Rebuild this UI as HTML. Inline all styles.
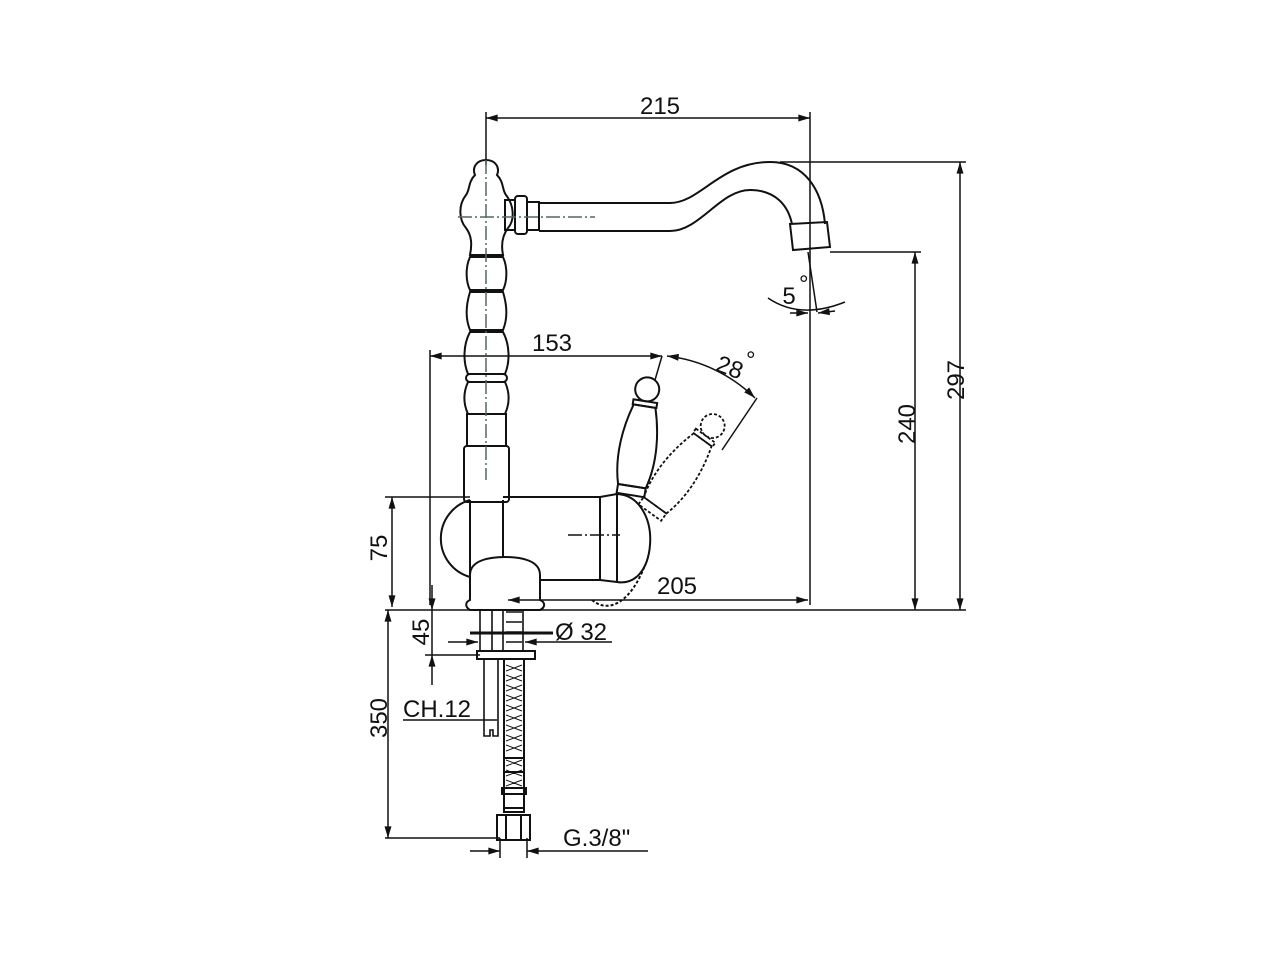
<!DOCTYPE html>
<html><head><meta charset="utf-8"><style>
html,body{margin:0;padding:0;background:#fff;}
svg{display:block}
text{font-family:"Liberation Sans",Arial,sans-serif;fill:#111;font-size:24px}
</style></head><body>
<svg width="1280" height="960" viewBox="0 0 1280 960" xmlns="http://www.w3.org/2000/svg">
<defs>
<marker id="a" viewBox="0 0 10 6" refX="10" refY="3" markerWidth="15" markerHeight="7" markerUnits="userSpaceOnUse" orient="auto-start-reverse"><path d="M0,0L10,3L0,6Z" fill="#111"/></marker>
</defs>
<g stroke="#111" stroke-width="1.5" fill="none">
<line x1="486" y1="112" x2="486" y2="165"/>
<line x1="810" y1="112" x2="810" y2="605"/>
<line x1="780" y1="162" x2="966" y2="162"/>
<line x1="830" y1="252" x2="921" y2="252"/>
<line x1="385" y1="610" x2="966" y2="610"/>
<line x1="385" y1="497" x2="470" y2="497"/>
<line x1="430" y1="350" x2="430" y2="605"/>
<line x1="385" y1="838" x2="500" y2="838"/>
<line x1="425" y1="655" x2="480" y2="655"/>
<line x1="486" y1="118" x2="810" y2="118" marker-start="url(#a)" marker-end="url(#a)"/>
<line x1="960" y1="162" x2="960" y2="610" marker-start="url(#a)" marker-end="url(#a)"/>
<line x1="915" y1="252" x2="915" y2="610" marker-start="url(#a)" marker-end="url(#a)"/>
<line x1="392" y1="497" x2="392" y2="607" marker-start="url(#a)" marker-end="url(#a)"/>
<line x1="430" y1="356" x2="662" y2="356" marker-start="url(#a)" marker-end="url(#a)"/>
<line x1="508" y1="600" x2="808" y2="600" marker-start="url(#a)" marker-end="url(#a)"/>
<line x1="388" y1="610" x2="388" y2="838" marker-start="url(#a)" marker-end="url(#a)"/>
<line x1="432" y1="585" x2="432" y2="610" marker-end="url(#a)"/>
<line x1="432" y1="685" x2="432" y2="655" marker-end="url(#a)"/>
<line x1="432" y1="610" x2="432" y2="655"/>
<line x1="448" y1="642" x2="478" y2="642" marker-end="url(#a)"/>
<line x1="612" y1="642" x2="525" y2="642" marker-end="url(#a)"/>
<line x1="470" y1="633" x2="553" y2="633" stroke-width="3"/>
<line x1="403" y1="720" x2="497" y2="720"/>
<line x1="470" y1="851" x2="500" y2="851" marker-end="url(#a)"/>
<line x1="648" y1="851" x2="527" y2="851" marker-end="url(#a)"/>
<line x1="500" y1="838" x2="500" y2="858"/><line x1="527" y1="838" x2="527" y2="858"/>
<line x1="662" y1="356" x2="655" y2="380"/>
<path d="M667,356 A150,150 0 0 1 755,398" marker-start="url(#a)" marker-end="url(#a)"/>
<line x1="757" y1="398" x2="722" y2="450"/>
<line x1="808" y1="252" x2="817" y2="312"/>
<path d="M768,298 Q800,320 845,302"/>
<line x1="790" y1="313" x2="808" y2="313" marker-end="url(#a)"/>
<line x1="835" y1="311" x2="818" y2="313" marker-end="url(#a)"/>
<g stroke-width="2">
<path d="M486,160 C476,160 472,168 475,175 C468,182 470,190 466,195 C458,205 459,220 466,228 C472,236 472,245 470,255 L503,255 C501,245 502,236 508,228 C515,220 514,205 506,195 C502,190 504,182 497,175 C500,168 496,160 486,160 Z"/>
<path d="M470,257 C465,268 466,282 470,290 L503,290 C507,282 508,268 503,257 Z"/>
<path d="M470,292 C466,305 465,318 470,330 L503,330 C508,318 507,305 503,292 Z"/>
<path d="M470,332 C463,345 463,362 468,374 L505,374 C510,362 510,345 503,332 Z"/>
<rect x="466" y="374" width="41" height="8" rx="4"/>
<path d="M468,382 C463,393 463,403 468,414 L505,414 C510,403 510,393 505,382 Z"/>
<rect x="467" y="414" width="39" height="32"/>
<rect x="464" y="446" width="45" height="56" rx="3"/>
<rect x="505" y="200" width="10" height="30"/>
<rect x="515" y="196" width="12" height="38" rx="3"/>
<rect x="527" y="202" width="12" height="28"/>
<path d="M539,203 L670,203 C700,203 720,162 770,162 C805,162 822,190 825,224 M539,231 L670,231 C700,231 720,190 750,190 C775,190 788,205 792,224"/>
<path d="M790,224 L827,222 L830,247 L793,250 Z"/>
<path d="M470,500 A40,40 0 0 0 470,577"/>
<path d="M470,500 L470,577 M503,497 L600,497 L600,580 L540,580 M503,500 L503,558"/>
<path d="M600,497 L617,494 C640,495 652,520 650,545 C648,570 635,585 617,582 L600,580 M617,494 L617,582"/>
<path d="M470,600 L470,575 C470,560 490,557 505,557 C520,557 540,560 540,575 L540,600 C545,602 546,607 540,610 L470,610 C465,607 465,602 470,600 Z"/>
</g>
<line x1="458" y1="217" x2="595" y2="217" stroke="#566" stroke-dasharray="14,3,2,3"/>
<line x1="486" y1="160" x2="486" y2="480" stroke="#566" stroke-dasharray="14,3,2,3"/>
<path stroke-dasharray="3,2" stroke-width="2" d="M592,600 C610,615 632,600 645,565"/>
<line x1="568" y1="535" x2="620" y2="535" stroke-dasharray="14,3,2,3"/>
<path stroke-width="1.6" d="M480,610 L480,650 M492,610 L492,650 M503,610 L503,650 M523,610 L523,650 M506,612 h16 M506,622 h16 M506,632 h16 M506,642 h16"/>
<rect stroke-width="2" x="477" y="651" width="58" height="8"/>
<path stroke-width="1.6" d="M484,659 L484,736 L490,736 L490,730 L493,730 L493,736 L498,736 L498,659"/>
<rect x="504" y="659" width="20" height="113" stroke-width="2"/>
<rect x="504" y="758" width="20" height="50" stroke-width="2"/>
<path stroke-width="1" d="M506,665 l16,6 M506,675 l16,6 M506,685 l16,6 M506,695 l16,6 M506,705 l16,6 M506,715 l16,6 M506,725 l16,6 M506,735 l16,6 M506,745 l16,6 M506,760 l16,6 M506,770 l16,6 M506,780 l16,6 M522,665 l-16,6 M522,675 l-16,6 M522,685 l-16,6 M522,695 l-16,6 M522,705 l-16,6 M522,715 l-16,6 M522,725 l-16,6 M522,735 l-16,6 M522,745 l-16,6 M522,760 l-16,6 M522,770 l-16,6 M522,780 l-16,6"/>
<rect stroke-width="2" x="502" y="788" width="24" height="6"/>
<rect stroke-width="2" x="504" y="794" width="20" height="18"/>
<path stroke-width="2" d="M497,815 L530,815 L530,840 L497,840 Z M506,815 V840 M521,815 V840"/>
<g transform="translate(630,498) rotate(9)" stroke-width="2">
<circle cx="0" cy="-110" r="12"/>
<rect x="-12" y="-98" width="24" height="5"/>
<path d="M-11,-93 C-18,-70 -22,-40 -14,-12 L14,-12 C22,-40 18,-70 11,-93 Z"/>
<rect x="-14" y="-12" width="28" height="9"/>
</g>
<g transform="translate(648,515) rotate(36)" stroke-dasharray="3,2" stroke-width="1.8">
<circle cx="0" cy="-110" r="12"/>
<rect x="-12" y="-98" width="24" height="5"/>
<path d="M-11,-93 C-18,-70 -22,-40 -14,-12 L14,-12 C22,-40 18,-70 11,-93 Z"/>
<rect x="-14" y="-12" width="28" height="9"/>
</g>
</g>
<text x="660" y="114" text-anchor="middle">215</text>
<text x="552" y="351" text-anchor="middle">153</text>
<text x="677" y="594" text-anchor="middle">205</text>
<text x="727" y="375" transform="rotate(20 727 375)" text-anchor="middle">28</text>
<text x="746" y="368" font-size="10">°</text>
<text x="789" y="304" text-anchor="middle">5</text>
<text x="799" y="292" font-size="10">°</text>
<text transform="translate(964,380) rotate(-90)" text-anchor="middle">297</text>
<text transform="translate(915,424) rotate(-90)" text-anchor="middle">240</text>
<text transform="translate(387,548) rotate(-90)" text-anchor="middle">75</text>
<text transform="translate(429,632) rotate(-90)" text-anchor="middle">45</text>
<text transform="translate(387,718) rotate(-90)" text-anchor="middle">350</text>
<text x="555" y="640">Ø 32</text>
<text x="403" y="717">CH.12</text>
<text x="563" y="846">G.3/8"</text>
</svg>
</body></html>
